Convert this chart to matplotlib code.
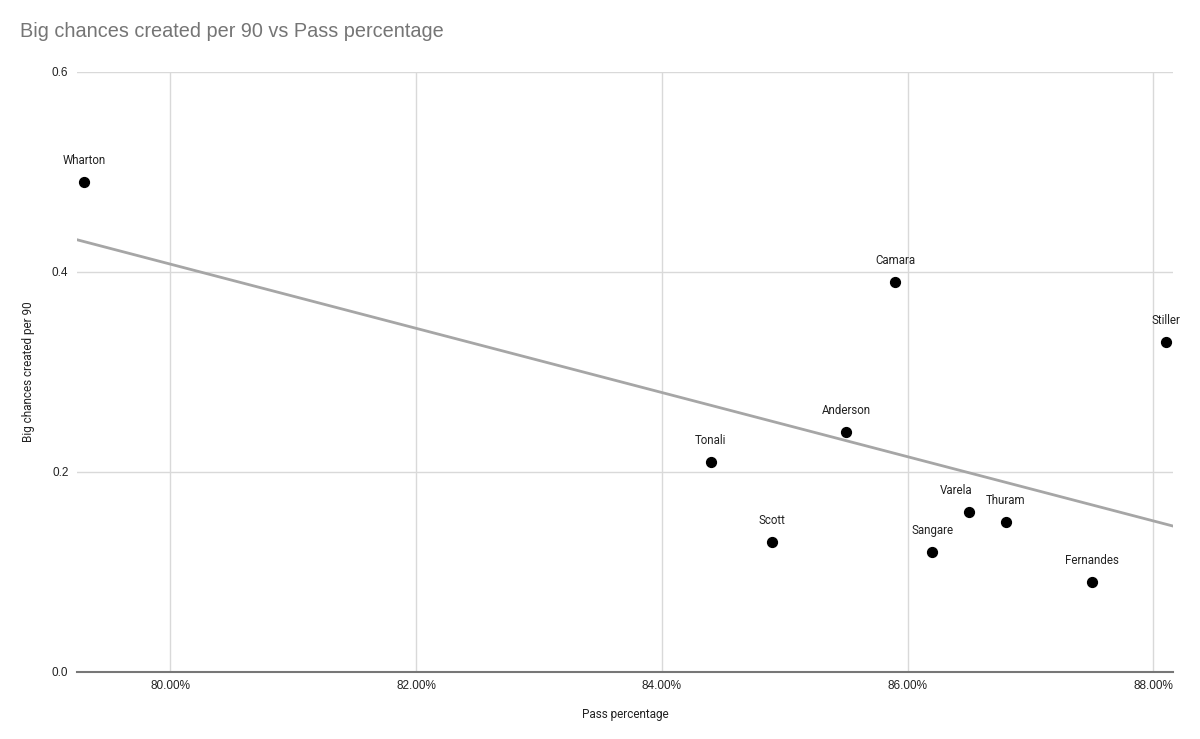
import numpy as np
import matplotlib
matplotlib.use('Agg')
import matplotlib.pyplot as plt
from matplotlib.ticker import FuncFormatter

# ── Data ────────────────────────────────────────────────────────────────
players = ['Wharton', 'Camara', 'Stiller', 'Anderson', 'Tonali',
           'Scott', 'Varela', 'Thuram', 'Sangare', 'Fernandes']
pass_pct = [79.3, 85.9, 88.1, 85.5, 84.4, 84.9, 86.5, 86.8, 86.2, 87.5]
big_chances = [0.49, 0.39, 0.33, 0.24, 0.21, 0.13, 0.16, 0.15, 0.12, 0.09]
x_ticks = [80, 82, 84, 86, 88]
y_ticks = [0.0, 0.2, 0.4, 0.6]

plt.rcParams['font.family'] = ['Roboto', 'DejaVu Sans']
ARIAL = ['Liberation Sans', 'DejaVu Sans']

fig = plt.figure(figsize=(12, 7.39), dpi=100)
ax = fig.add_axes([0.064, 0.0907, 0.9135, 0.8119])

xlim = (79.24, 88.16)
ax.set_xlim(*xlim)
ax.set_ylim(0, 0.6)

# trendline (least squares)
slope, icpt = np.polyfit(pass_pct, big_chances, 1)
xs = np.array(xlim)
ax.plot(xs, slope * xs + icpt, color='#a6a6a6', linewidth=2, zorder=2)

ax.scatter(pass_pct, big_chances, s=50, color='black', zorder=3)

label_shift = {'Varela': -13}
for name, x, y in zip(players, pass_pct, big_chances):
    ax.annotate(name, (x, y), textcoords='offset pixels',
                xytext=(label_shift.get(name, 0), 15), ha='center', va='bottom',
                fontsize=8.3, color='#222222')

ax.set_xticks(x_ticks)
ax.set_yticks(y_ticks)
ax.xaxis.set_major_formatter(FuncFormatter(lambda v, p: f'{v:.2f}%'))
ax.yaxis.set_major_formatter(FuncFormatter(lambda v, p: f'{v:.1f}'))
ax.tick_params(length=0, labelsize=8.5, colors='#222222', pad=6)
for lbl in ax.get_xticklabels() + ax.get_yticklabels():
    lbl.set_family(ARIAL)
ax.grid(True, color='#d9d9d9', linewidth=1)
ax.set_axisbelow(True)
for side in ['top', 'right', 'left']:
    ax.spines[side].set_visible(False)
ax.spines['bottom'].set_color('#777777')
ax.spines['bottom'].set_linewidth(1.5)

ax.set_xlabel('Pass percentage', fontsize=8.5, color='#222222', labelpad=11)
ax.set_ylabel('Big chances created per 90', fontsize=8.5, color='#222222', labelpad=12)

fig.text(0.017, 0.958, 'Big chances created per 90 vs Pass percentage',
         fontsize=14.3, color='#757575', ha='left', va='center', family=ARIAL)

plt.savefig('out.png', dpi=100)
